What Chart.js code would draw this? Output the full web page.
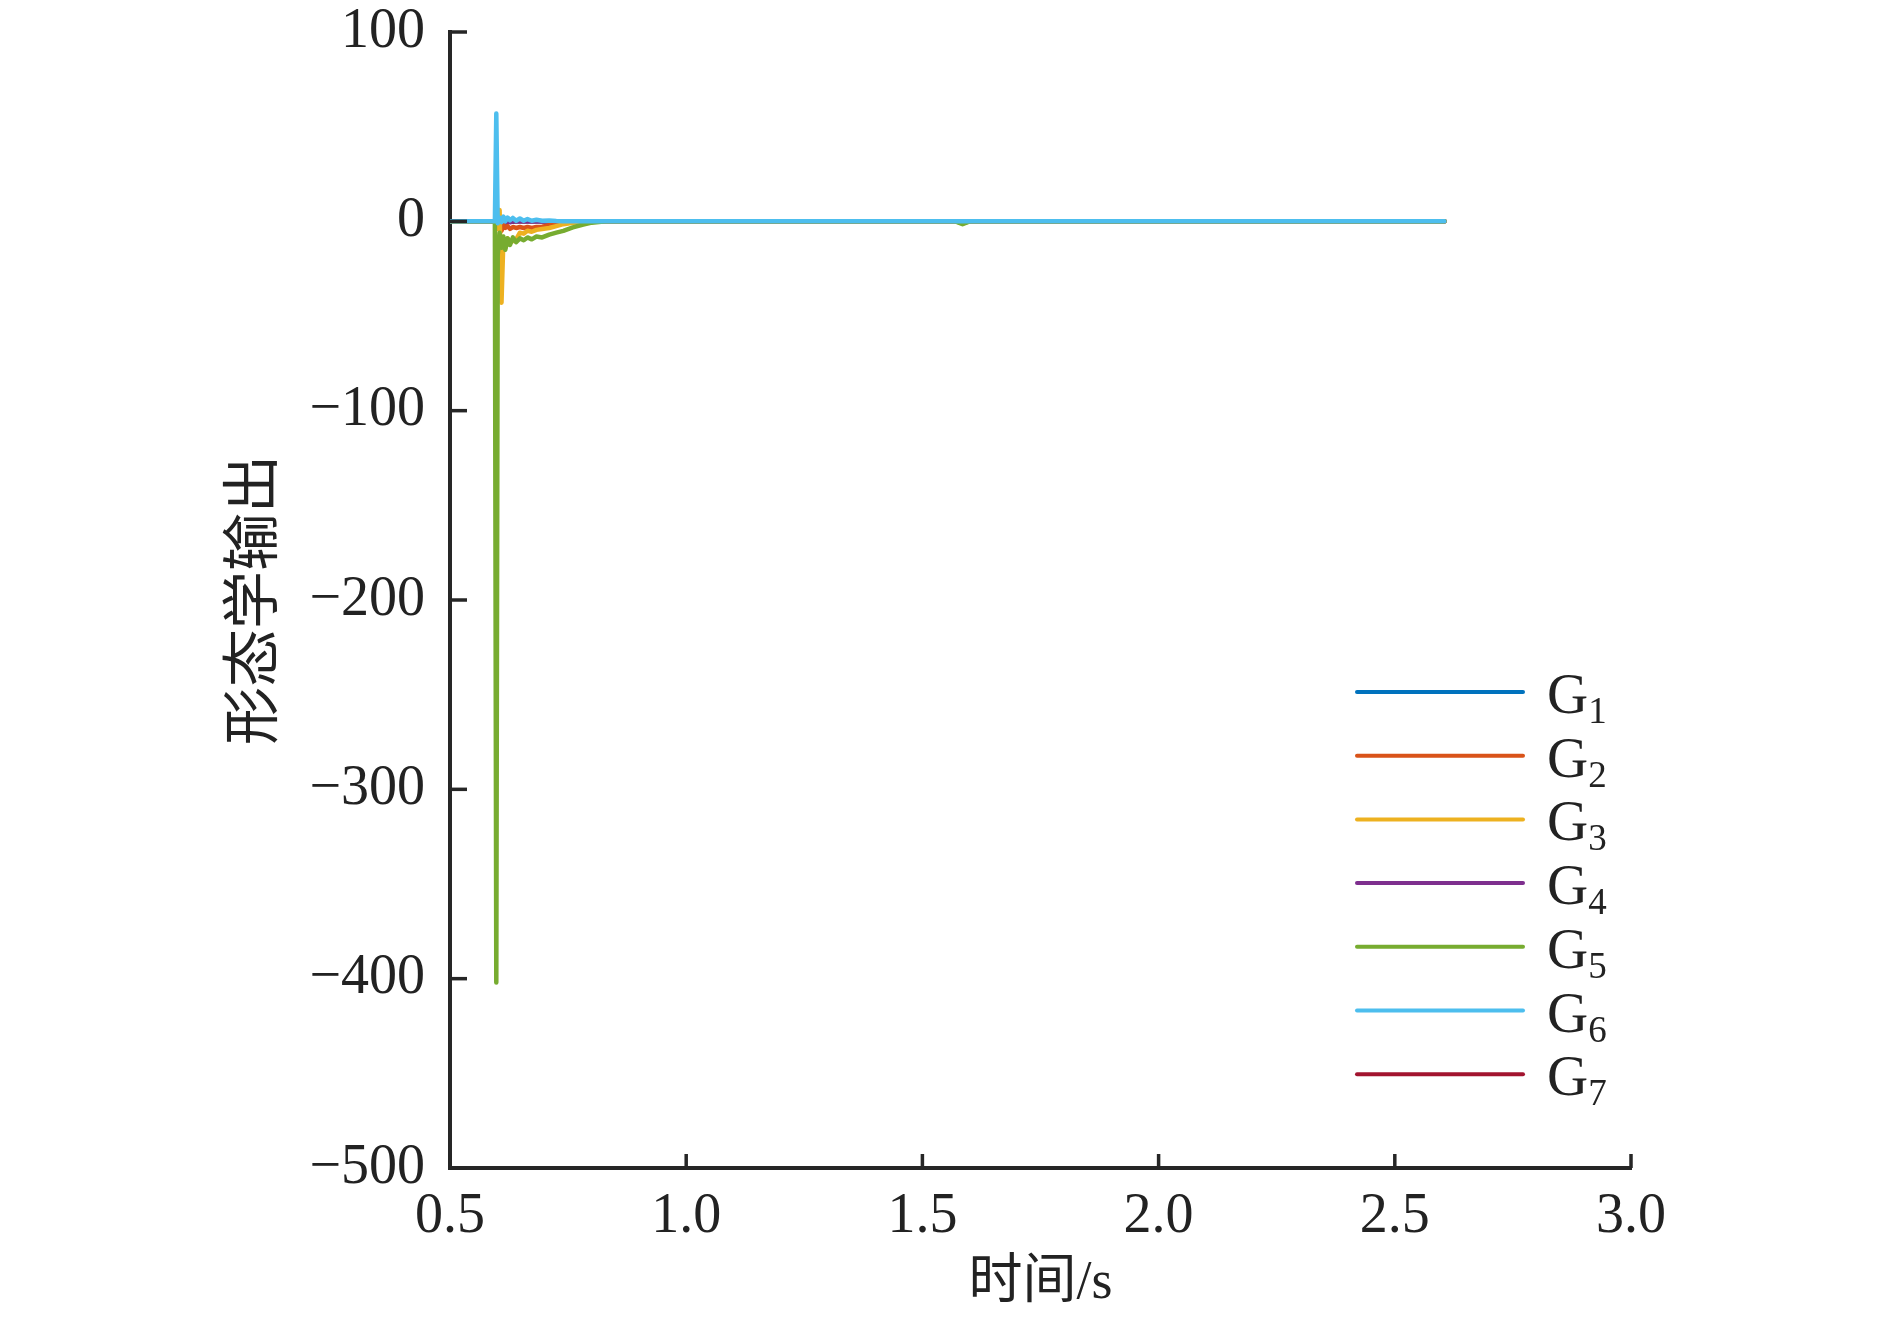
<!DOCTYPE html>
<html>
<head>
<meta charset="utf-8">
<script src="https://cdn.jsdelivr.net/npm/chart.js@4.4.1/dist/chart.umd.min.js"></script>
<style>
  html, body { margin: 0; padding: 0; background: #fff; }
  #wrap { width: 1890px; height: 1322px; position: relative; }
</style>
</head>
<body>
<div id="wrap"><canvas id="morph-chart"></canvas></div>
<script>
// time axis (s), shared by all series
const timeS = [0.5, 0.595, 0.598, 0.601, 0.605, 0.609, 0.613, 0.617, 0.622, 0.627,
               0.633, 0.640, 0.648, 0.656, 0.664, 0.673, 0.683, 0.695, 0.710, 0.725,
               0.740, 0.760, 0.780, 0.800, 0.830, 0.870, 1.000, 1.400, 1.570, 1.585,
               1.600, 1.700, 2.200, 2.605];

const g1 = [0, 0, -1, 1, -1, 0.5, -0.5, 0.5, -0.3, 0.3,
            -0.2, 0.2, 0, 0, 0, 0, 0, 0, 0, 0,
            0, 0, 0, 0, 0, 0, 0, 0, 0, 0,
            0, 0, 0, 0];
const g2 = [0, 0, 0, -2, 1, -5, -2, -3.5, -2.5, -4,
            -3, -3.5, -3, -3.5, -3, -3.5, -3, -2.8, -2, -1.4,
            -0.8, -0.3, 0, 0, 0, 0, 0, 0, 0, 0,
            0, 0, 0, 0];
const g3 = [0, 0, 0, -4, 6, -43, -10, -14, -9, -11,
            -10.5, -9.5, -6, -6.5, -5, -5.5, -4.5, -4, -3.5, -2.5,
            -1.5, -0.8, -0.3, 0, 0, 0, 0, 0, 0, -1,
            0, 0, 0, 0];
const g4 = [0, 0, 0, -1, 1, -1.5, 0, -1, 0, -0.5,
            0, 0, 0, 0, 0, 0, 0, 0, 0, 0,
            0, 0, 0, 0, 0, 0, 0, 0, 0, 0,
            0, 0, 0, 0];
const g5 = [0, 0, -402, -18, -6, -14, -8, -15, -9, -12.5,
            -8.5, -11, -9, -10, -8.5, -9.5, -8, -8.5, -7, -6,
            -5, -3.2, -1.8, -0.7, 0, 0, 0, 0, 0, -1.5,
            0, 0, 0, 0];
const g6 = [0, 0, 57, -1, 2, -0.5, 2.5, 0, 2, 0.5,
            1.8, 0.3, 1.5, 0.3, 1.2, 0.3, 0.8, 0.3, 0.5, 0.2,
            0, 0, 0, 0, 0, 0, 0, 0, 0, 0,
            0, 0, 0, 0];
const g7 = [0, 0, 0, 0, 0, 0, 0, 0, 0, 0,
            0, 0, 0, 0, 0, 0, 0, 0, 0, 0,
            0, 0, 0, 0, 0, 0, 0, 0, 0, 0,
            0, 0, 0, 0];

const seriesNames = ['1', '2', '3', '4', '5', '6', '7'];
const seriesValues = [g1, g2, g3, g4, g5, g6, g7];
const seriesColors = ['#0072BD', '#D95319', '#EDB120', '#7E2F8E', '#77AC30', '#4DBEEE', '#A2142F'];
const drawOrder = [7, 4, 3, 5, 2, 1, 6];

const xTicks = [0.5, 1.0, 1.5, 2.0, 2.5, 3.0];
const yTicks = [100, 0, -100, -200, -300, -400, -500];

const axisColor = '#262626';
const serif = "'Liberation Serif', 'Times New Roman', 'Noto Sans CJK SC', serif";

const datasets = seriesValues.map((vals, i) => ({
    label: 'G' + seriesNames[i],
    data: timeS.map((t, j) => ({ x: t, y: vals[j] })),
    borderColor: seriesColors[i],
    backgroundColor: seriesColors[i],
    borderWidth: 4.5,
    pointRadius: 0,
    tension: 0,
    borderCapStyle: 'round',
    borderJoinStyle: 'round',
    order: drawOrder[i]
}));

// inward tick marks, drawn over the lines like the original
const innerTicks = {
    id: 'innerTicks',
    afterDatasetsDraw(chart) {
        const ctx = chart.ctx;
        const xs = chart.scales.x, ys = chart.scales.y;
        const area = chart.chartArea;
        ctx.save();
        ctx.strokeStyle = axisColor;
        ctx.lineWidth = 3.5;
        yTicks.forEach(v => {
            const y = ys.getPixelForValue(v);
            ctx.beginPath();
            ctx.moveTo(area.left, y);
            ctx.lineTo(area.left + 17, y);
            ctx.stroke();
        });
        xTicks.forEach(v => {
            const x = xs.getPixelForValue(v);
            ctx.beginPath();
            ctx.moveTo(x, area.bottom);
            ctx.lineTo(x, area.bottom - 14);
            ctx.stroke();
        });
        ctx.restore();
    }
};

// legend with subscripts, inside the lower right of the plot
const subLegend = {
    id: 'subLegend',
    afterDraw(chart) {
        const ctx = chart.ctx;
        const x0 = 1357, x1 = 1523, textX = 1547, y0 = 692, step = 63.7;
        ctx.save();
        chart.data.datasets.forEach((ds, i) => {
            const y = y0 + i * step;
            ctx.strokeStyle = ds.borderColor;
            ctx.lineWidth = 4;
            ctx.lineCap = 'round';
            ctx.beginPath();
            ctx.moveTo(x0, y);
            ctx.lineTo(x1, y);
            ctx.stroke();
            ctx.fillStyle = '#222';
            ctx.textBaseline = 'alphabetic';
            ctx.textAlign = 'left';
            ctx.font = "57px " + serif;
            ctx.fillText('G', textX, y + 21);
            const w = ctx.measureText('G').width;
            ctx.font = "37px " + serif;
            ctx.fillText(seriesNames[i], textX + w, y + 31);
        });
        ctx.restore();
    }
};

const ctx = document.getElementById('morph-chart').getContext('2d');
new Chart(ctx, {
    type: 'line',
    data: { datasets: datasets },
    plugins: [innerTicks, subLegend],
    options: {
        responsive: true,
        maintainAspectRatio: false,
        animation: false,
        events: [],
        layout: { padding: { top: 32, right: 259, bottom: 0, left: 0 } },
        plugins: {
            legend: { display: false },
            tooltip: { enabled: false }
        },
        scales: {
            x: {
                type: 'linear',
                min: 0.5,
                max: 3.0,
                afterFit: s => { s.height = 154; s.paddingLeft = 0; s.paddingRight = 0; },
                afterBuildTicks: s => { s.ticks = xTicks.map(v => ({ value: v })); },
                grid: { display: false },
                border: { display: true, color: axisColor, width: 4 },
                ticks: {
                    color: '#222',
                    padding: 8,
                    maxRotation: 0,
                    font: { family: serif, size: 56 },
                    callback: v => v.toFixed(1)
                },
                title: {
                    display: true,
                    text: '时间/s',
                    color: '#222',
                    font: { family: serif, size: 54 },
                    padding: { top: 0, bottom: 6 }
                }
            },
            y: {
                type: 'linear',
                min: -500,
                max: 100,
                afterFit: s => { s.width = 450; s.paddingTop = 0; s.paddingBottom = 0; },
                afterBuildTicks: s => { s.ticks = yTicks.map(v => ({ value: v })); },
                grid: { display: false },
                border: { display: true, color: axisColor, width: 4 },
                ticks: {
                    color: '#222',
                    padding: 17,
                    font: { family: serif, size: 56 },
                    callback: v => String(v).replace('-', '\u2212')
                },
                title: {
                    display: true,
                    text: '形态学输出',
                    color: '#222',
                    font: { family: serif, size: 58 },
                    padding: { top: 222, bottom: 0 }
                }
            }
        }
    }
});
</script>
</body>
</html>
